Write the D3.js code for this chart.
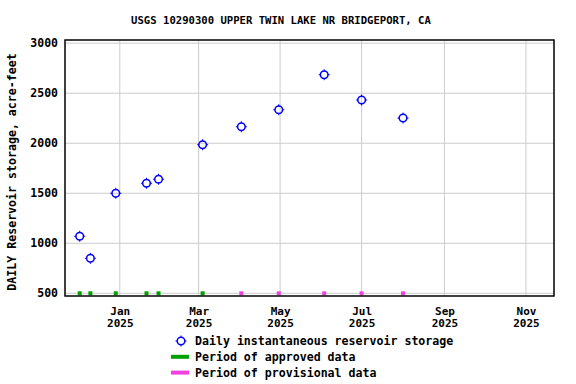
<!DOCTYPE html>
<html>
<head>
<meta charset="utf-8">
<script src="https://cdn.jsdelivr.net/npm/d3@7"></script>
<style>
  body { margin: 0; background: #fff; }
  text { font-family: "DejaVu Sans Mono", monospace; font-weight: bold; fill: #000; }
</style>
</head>
<body>
<svg id="chart" width="576" height="384"></svg>
<script>
const TITLE = 'USGS 10290300 UPPER TWIN LAKE NR BRIDGEPORT, CA';
const Y_LABEL = 'DAILY Reservoir storage, acre-feet';

// daily instantaneous storage readings
const sampleDates = [
  '2024-12-02', '2024-12-10', '2024-12-29', '2025-01-21', '2025-01-30',
  '2025-03-04', '2025-04-02', '2025-04-30', '2025-06-03', '2025-07-01', '2025-08-01',
];
const storage = [1070, 850, 1500, 1600, 1640, 1985, 2165, 2335, 2685, 2432, 2252];
const status = ['A', 'A', 'A', 'A', 'A', 'A', 'P', 'P', 'P', 'P', 'P'];

const yTicks = [500, 1000, 1500, 2000, 2500, 3000];
const xTicks = ['2025-01-01', '2025-03-01', '2025-05-01', '2025-07-01', '2025-09-01', '2025-11-01'];

const legendItems = [
  { kind: 'circle', label: 'Daily instantaneous reservoir storage' },
  { kind: 'line', color: '#00a000', label: 'Period of approved data' },
  { kind: 'line', color: '#f040e0', label: 'Period of provisional data' },
];

const BLUE = '#0000ff';
const GREEN = '#00a000';
const PINK = '#f040e0';
const GRID = '#cccccc';

const parse = d3.utcParse('%Y-%m-%d');
const data = sampleDates.map((d, i) => ({ date: parse(d), value: storage[i], status: status[i] }));

const margin = { top: 40, right: 22, bottom: 88, left: 65 };
const width = 576, height = 384;
const innerW = width - margin.left - margin.right;
const innerH = height - margin.top - margin.bottom;

const svg = d3.select('#chart');

const x = d3.scaleUtc()
  .domain([parse('2024-11-21'), parse('2025-11-22')])
  .range([0, innerW]);

const y = d3.scaleLinear()
  .domain([473, 3032])
  .range([innerH, 0]);

const plot = svg.append('g')
  .attr('transform', `translate(${margin.left},${margin.top})`);

// gridlines
plot.append('g')
  .selectAll('line')
  .data(yTicks)
  .join('line')
  .attr('x1', 0)
  .attr('x2', innerW)
  .attr('y1', d => y(d))
  .attr('y2', d => y(d))
  .attr('stroke', GRID)
  .attr('stroke-width', 1);

plot.append('g')
  .selectAll('line')
  .data(xTicks.map(parse))
  .join('line')
  .attr('x1', d => x(d))
  .attr('x2', d => x(d))
  .attr('y1', 0)
  .attr('y2', innerH)
  .attr('stroke', GRID)
  .attr('stroke-width', 1);

// y axis labels
const yAxis = d3.axisLeft(y)
  .tickValues(yTicks)
  .tickSize(0)
  .tickPadding(7)
  .tickFormat(d3.format('d'));
const yAxisEl = plot.append('g').call(yAxis);
yAxisEl.select('.domain').remove();
yAxisEl.selectAll('text')
  .style('font-family', '"DejaVu Sans Mono", monospace')
  .style('font-weight', 'bold')
  .style('font-size', '11.5px')
  .attr('fill', '#000');

// x axis labels, month over year
const xAxis = d3.axisBottom(x)
  .tickValues(xTicks.map(parse))
  .tickSize(0)
  .tickFormat('');
const xAxisEl = plot.append('g')
  .attr('transform', `translate(0,${innerH})`)
  .call(xAxis);
xAxisEl.select('.domain').remove();
xAxisEl.selectAll('.tick').each(function (d) {
  const tick = d3.select(this);
  tick.append('text')
    .attr('text-anchor', 'middle')
    .attr('y', 18.5)
    .style('font-size', '11px')
    .text(d3.utcFormat('%b')(d));
  tick.append('text')
    .attr('text-anchor', 'middle')
    .attr('y', 31)
    .style('font-size', '11px')
    .text(d3.utcFormat('%Y')(d));
});

// approval status markers along the bottom
plot.append('g')
  .selectAll('rect')
  .data(data)
  .join('rect')
  .attr('x', d => x(d.date) - 2)
  .attr('y', y(500) - 2)
  .attr('width', 4)
  .attr('height', 4)
  .attr('fill', d => d.status === 'A' ? GREEN : PINK);

// storage points
const marker = (sel) => {
  sel.append('circle')
    .attr('r', 3.8)
    .attr('fill', 'none')
    .attr('stroke', BLUE)
    .attr('stroke-width', 1.5);
  sel.append('path')
    .attr('d', 'M0,-5.5V-3.5M0,3.5V5.5M-5.5,0H-3.5M3.5,0H5.5')
    .attr('stroke', BLUE)
    .attr('stroke-width', 1);
};

plot.append('g')
  .selectAll('g')
  .data(data)
  .join('g')
  .attr('transform', d => `translate(${x(d.date)},${y(d.value)})`)
  .call(marker);

// frame
plot.append('rect')
  .attr('x', 0)
  .attr('y', 0)
  .attr('width', innerW)
  .attr('height', innerH)
  .attr('fill', 'none')
  .attr('stroke', '#000')
  .attr('stroke-width', 1.5);

// title
svg.append('text')
  .attr('x', 281)
  .attr('y', 24)
  .attr('text-anchor', 'middle')
  .style('font-size', '10.6px')
  .text(TITLE);

// y label
svg.append('text')
  .attr('transform', 'translate(16,172) rotate(-90)')
  .attr('text-anchor', 'middle')
  .style('font-size', '11.6px')
  .text(Y_LABEL);

// legend
const legend = svg.append('g').attr('transform', 'translate(171,341)');
legendItems.forEach((item, i) => {
  const g = legend.append('g').attr('transform', `translate(0,${i * 15.8})`);
  if (item.kind === 'circle') {
    g.append('g').attr('transform', 'translate(10,0)').call(marker);
  } else {
    g.append('line')
      .attr('x1', 0)
      .attr('x2', 18)
      .attr('stroke', item.color)
      .attr('stroke-width', 4);
  }
  g.append('text')
    .attr('x', 24)
    .attr('y', 4)
    .style('font-size', '11.6px')
    .text(item.label);
});
</script>
</body>
</html>
